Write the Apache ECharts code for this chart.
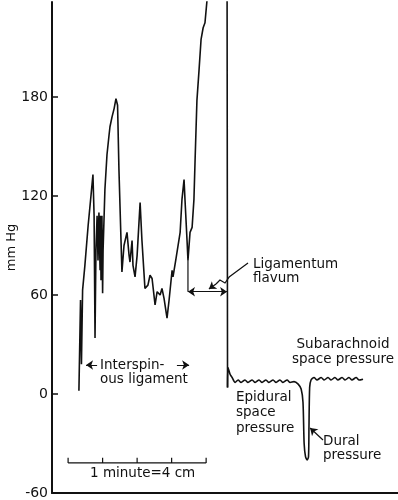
<!DOCTYPE html>
<html>
<head>
<meta charset="utf-8">
<script src="https://cdn.jsdelivr.net/npm/echarts@6/dist/echarts.min.js"></script>
<style>
  html, body { margin: 0; padding: 0; background: #fff; }
  #chart { width: 398px; height: 500px; }
</style>
</head>
<body>
<div id="chart"></div>
<script>
// needle pressure trace through interspinous ligament + ligamentum flavum (time s, mm Hg)
const needleTime = [11.7, 12.4, 12.8, 13.3, 14.3, 15.7, 17.0, 17.8, 18.3, 18.7, 19.1, 19.6, 20.0, 20.4,
  20.9, 21.1, 21.3, 21.7, 22.0, 22.2, 23.0, 23.9, 24.8, 25.2, 26.1, 27.0, 27.8, 28.5, 29.1, 30.0,
  30.4, 31.3, 32.6, 33.5, 33.9, 34.8, 35.2, 36.1, 37.0, 38.3, 39.1, 40.4, 41.7, 42.6, 43.5, 44.8,
  45.7, 46.1, 47.0, 47.8, 48.7, 50.0, 50.9, 52.2, 52.6, 53.9, 55.7, 56.5, 57.4, 57.8, 58.7, 59.1,
  60.0, 60.9, 61.7, 62.2, 63.0, 63.9, 64.8, 65.7, 66.5, 67.4, 68.3, 76.1, 76.3];
const needlePressure = [2, 57, 18, 63, 78, 102, 121, 133, 108, 34, 87, 108, 81, 110,
  75, 108, 69, 108, 61, 87, 124, 145, 157, 162, 168, 173, 179, 175, 136, 93,
  74, 90, 98, 84, 80, 93, 78, 71, 84, 116, 93, 64, 66, 72, 70, 54,
  62, 63, 60, 64, 58, 46, 57, 75, 71, 82, 98, 118, 130, 118, 93, 81,
  98, 101, 118, 142, 178, 196, 215, 222, 225, 239, 251, 251, 4];

// epidural -> dural puncture -> subarachnoid
const spaceTime = [76.3, 76.5, 77.4, 78.3, 79.6, 80.9, 82.2, 83.9, 85.2, 87.0, 88.3, 90.0, 91.3, 93.0,
  94.3, 96.1, 97.4, 99.1, 100.4, 102.2, 103.5, 105.2, 107.0, 108.3, 109.1, 109.6, 110.2, 110.9,
  111.5, 111.7, 112.0, 112.6, 113.9, 115.2, 117.0, 118.3, 120.0, 121.3, 123.0, 124.3, 126.1,
  127.4, 129.1, 130.4, 132.2, 133.5, 135.2];
const spacePressure = [4, 16, 12, 10, 7, 8.5, 7, 8.5, 7, 8.5, 7, 8.5, 7, 8.5,
  7, 8.5, 7, 8.5, 7, 8.5, 7, 7.5, 6, 3, -5, -30, -38, -40,
  -38, -20, 4, 8.5, 10, 8.5, 10, 8.5, 10, 8.5, 10, 8.5, 10,
  8.5, 10, 8.5, 10, 8.5, 9];

const yTicks = [-60, 0, 60, 120, 180];
const scaleBarTicks = [7, 22, 37, 52, 67];

const ink = '#111';
const font = 'DejaVu Sans';

const chart = echarts.init(document.getElementById('chart'));

function pairs(xs, ys) {
  return xs.map((x, i) => [x, ys[i]]);
}

const scaleBar = [];
scaleBarTicks.forEach((t) => {
  scaleBar.push({ coords: [[t, -41.8], [t, -38.6]] });
});
scaleBar.push({ coords: [[scaleBarTicks[0], -41.8], [scaleBarTicks[scaleBarTicks.length - 1], -41.8]] });

function txt(text, x, y, align) {
  return {
    type: 'text', x: x, y: y,
    style: { text: text, fill: ink, font: '13.5px "' + font + '"', align: align || 'left', verticalAlign: 'middle' }
  };
}

function arrows(symbol, data, poly) {
  return {
    type: 'lines', coordinateSystem: 'cartesian2d', polyline: !!poly,
    symbol: symbol, symbolSize: 7,
    lineStyle: { color: ink, width: 1.2, opacity: 1 },
    itemStyle: { color: ink },
    data: data
  };
}

chart.setOption({
  animation: false,
  grid: { left: 52, right: 0, top: 2, bottom: 7, outerBoundsMode: 'none' },
  xAxis: {
    type: 'value', min: 0, max: 150.4,
    axisLine: { show: true, onZero: false, lineStyle: { color: ink, width: 2 } },
    axisTick: { show: false }, axisLabel: { show: false }, splitLine: { show: false }
  },
  yAxis: {
    type: 'value', min: -60, max: 237.6,
    name: 'mm Hg', nameLocation: 'middle', nameGap: 34, nameMoveOverlap: false,
    nameTextStyle: { color: ink, fontFamily: font, fontSize: 13 },
    axisLine: { show: true, lineStyle: { color: ink, width: 2 } },
    axisTick: { show: true, inside: true, length: 6, customValues: yTicks, lineStyle: { color: ink, width: 1.5 } },
    axisLabel: { customValues: yTicks, margin: 4, color: ink, fontFamily: font, fontSize: 14 },
    splitLine: { show: false }
  },
  series: [
    {
      type: 'line', data: pairs(needleTime, needlePressure), symbol: 'none',
      lineStyle: { color: ink, width: 1.6 }, clip: true
    },
    {
      type: 'line', data: pairs(spaceTime, spacePressure), symbol: 'none', smooth: 0.25,
      lineStyle: { color: ink, width: 1.6 }, clip: true
    },
    arrows(['none', 'arrow'], [
      { coords: [[19.6, 17.6], [14.8, 17.6]] },
      { coords: [[54.3, 17.6], [59.6, 17.6]] },
      { coords: [[71.3, 66.7], [68.2, 63.6]] },
      { coords: [[117.8, -27.9], [112.2, -20.6]] }
    ]),
    arrows(['arrow', 'arrow'], [
      { coords: [[59.1, 62], [76.1, 62]] }
    ]),
    arrows('none', [
      { coords: [[85.2, 79.4], [77.0, 70.9], [75.2, 67.3], [73.0, 69.1], [71.3, 66.7]] }
    ], true),
    arrows('none', scaleBar.concat([{ coords: [[59.1, 81], [59.1, 62]] }]), true)
  ],
  graphic: [
    txt('Interspin-', 100, 365),
    txt('ous ligament', 100, 379),
    txt('Ligamentum', 253, 264),
    txt('flavum', 253, 278),
    txt('Subarachnoid', 343, 344, 'center'),
    txt('space pressure', 343, 359, 'center'),
    txt('Epidural', 236, 397),
    txt('space', 236, 412),
    txt('pressure', 236, 428),
    txt('Dural', 323, 441),
    txt('pressure', 323, 455),
    txt('1 minute=4 cm', 90, 473)
  ]
});
</script>
</body>
</html>
